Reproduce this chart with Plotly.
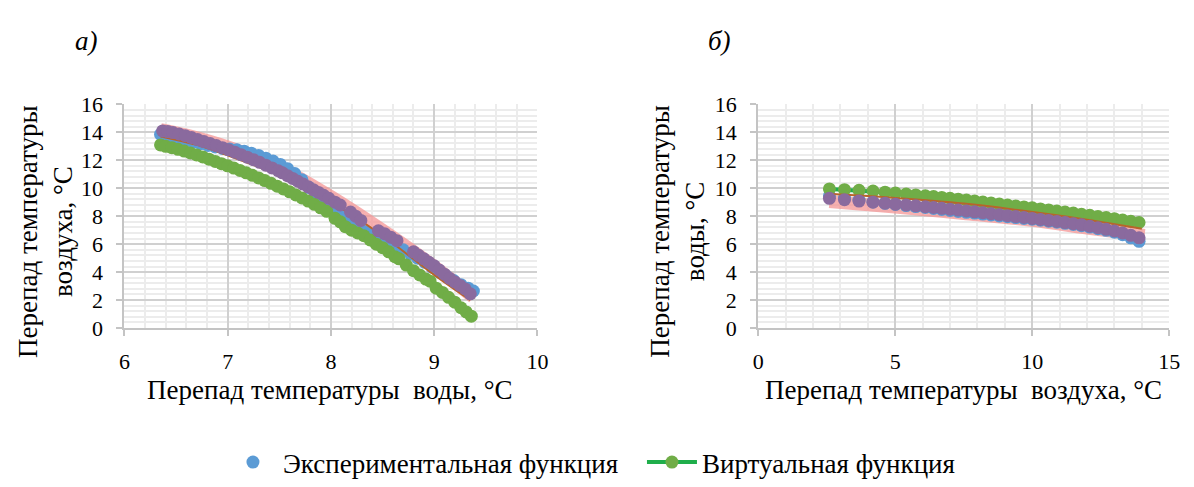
import plotly.graph_objects as go

# ---------------- data: panel а) ----------------
a_blue_x = [6.35, 6.41, 6.47, 6.53, 6.6, 6.67, 6.74, 6.81, 6.88, 6.95, 7.02, 7.09, 7.16, 7.23, 7.3, 7.37, 7.44,
            7.51, 7.58, 7.65, 7.72, 7.79, 7.86, 7.93, 8.0, 8.07, 8.14, 8.21, 8.28, 8.35, 8.42, 8.49, 8.56, 8.63,
            8.7, 8.77, 8.84, 8.91, 8.98, 9.05, 9.12, 9.19, 9.26, 9.33, 9.38]
a_blue_y = [13.85, 13.75, 13.65, 13.55, 13.42, 13.3, 13.18, 13.06, 12.95, 12.85, 12.8, 12.75, 12.65, 12.5, 12.35,
            12.15, 11.95, 11.7, 11.4, 11.05, 10.6, 10.05, 9.5, 9.0, 8.55, 8.15, 7.8, 7.45, 7.15, 6.85, 6.6, 6.35,
            6.1, 5.85, 5.6, 5.3, 5.0, 4.7, 4.35, 4.0, 3.7, 3.4, 3.1, 2.85, 2.65]

a_green_x = [6.35, 6.40, 6.46, 6.52, 6.58, 6.64, 6.70, 6.76, 6.82, 6.88, 6.94, 7.00, 7.06, 7.12, 7.18, 7.24, 7.30,
             7.36, 7.42, 7.48, 7.54, 7.60, 7.66, 7.72, 7.78, 7.84, 7.90, 7.96, 8.04, 8.09, 8.14, 8.20, 8.26, 8.32,
             8.38, 8.44, 8.50, 8.56, 8.62, 8.66, 8.73, 8.80, 8.86, 8.92, 8.96, 9.02, 9.08, 9.14, 9.20, 9.26, 9.31,
             9.36]
a_green_y = [13.1, 13.0, 12.9, 12.78, 12.66, 12.52, 12.38, 12.24, 12.08, 11.92, 11.76, 11.6, 11.44, 11.27, 11.1,
             10.92, 10.74, 10.55, 10.35, 10.15, 9.95, 9.74, 9.52, 9.3, 9.08, 8.85, 8.6, 8.35, 7.85, 7.6, 7.25, 7.0,
             6.8, 6.6, 6.3, 6.0, 5.75, 5.45, 5.1, 4.95, 4.5, 4.1, 3.8, 3.5, 3.35, 2.85, 2.55, 2.2, 1.85, 1.45, 1.15,
             0.85]

a_purple_x = [6.37, 6.42, 6.47, 6.53, 6.59, 6.65, 6.71, 6.77, 6.83, 6.89, 6.95, 7.01, 7.07, 7.13, 7.19, 7.25, 7.31,
              7.37, 7.43, 7.49, 7.53, 7.58, 7.63, 7.68, 7.73, 7.78, 7.83, 7.88, 7.93, 7.98, 8.04, 8.09, 8.19, 8.24,
              8.29, 8.46, 8.52, 8.58, 8.64, 8.8, 8.85, 8.9, 8.95, 9.0, 9.05, 9.1, 9.15, 9.2, 9.25, 9.3, 9.35]
a_purple_y = [14.1, 14.05, 13.98, 13.88, 13.76, 13.62, 13.48, 13.34, 13.2, 13.05, 12.9, 12.75, 12.58, 12.4, 12.22,
              12.04, 11.85, 11.65, 11.45, 11.25, 11.1, 10.9, 10.7, 10.5, 10.3, 10.1, 9.9, 9.7, 9.5, 9.28, 9.0, 8.8,
              8.3, 8.0, 7.7, 6.95, 6.75, 6.5, 6.25, 5.45, 5.2, 4.95, 4.7, 4.45, 4.15, 3.85, 3.55, 3.3, 3.05, 2.8,
              2.45]

a_pink_x = [6.35, 6.6, 7.0, 7.5, 8.0, 8.5, 9.0, 9.38]
a_pink_y = [14.2, 13.8, 12.95, 11.5, 9.4, 7.0, 4.4, 2.2]

a_brown_x = [6.35, 6.7, 7.0, 7.5, 8.0, 8.5, 9.0, 9.35]
a_brown_y = [13.7, 13.1, 12.35, 10.9, 9.0, 6.6, 3.8, 2.0]

# ---------------- data: panel б) ----------------
b_x = [2.6, 3.15, 3.68, 4.19, 4.63, 5.01, 5.4, 5.75, 6.1, 6.4, 6.7, 7.0, 7.3, 7.6, 7.9, 8.2, 8.5, 8.8, 9.1, 9.4,
       9.7, 10.0, 10.3, 10.6, 10.9, 11.2, 11.5, 11.8, 12.1, 12.4, 12.7, 13.0, 13.3, 13.6, 13.9]
b_green_y = [9.95, 9.9, 9.85, 9.8, 9.72, 9.65, 9.58, 9.52, 9.46, 9.4, 9.34, 9.28, 9.22, 9.15, 9.08, 9.01, 8.94,
             8.87, 8.8, 8.73, 8.66, 8.6, 8.52, 8.45, 8.37, 8.3, 8.22, 8.14, 8.06, 7.98, 7.9, 7.82, 7.73, 7.64, 7.55]
b_purple_y = [9.28, 9.18, 9.08, 9.0, 8.93, 8.86, 8.8, 8.74, 8.68, 8.62, 8.56, 8.5, 8.44, 8.38, 8.31, 8.25, 8.18,
              8.11, 8.04, 7.97, 7.91, 7.84, 7.77, 7.7, 7.62, 7.54, 7.46, 7.38, 7.28, 7.18, 7.06, 6.94, 6.8, 6.63,
              6.45]
b_blue_y = [9.45, 9.3, 9.15, 9.02, 8.92, 8.84, 8.76, 8.69, 8.62, 8.55, 8.48, 8.41, 8.34, 8.28, 8.22, 8.15, 8.09,
            8.02, 7.96, 7.9, 7.84, 7.78, 7.71, 7.64, 7.57, 7.49, 7.41, 7.32, 7.22, 7.11, 6.99, 6.85, 6.68, 6.45, 6.2]

b_pink_x = [2.6, 5.0, 7.5, 10.0, 12.0, 13.0, 14.1]
b_pink_y = [9.05, 8.65, 8.2, 7.7, 7.15, 6.9, 6.62]

b_brown_x = [2.6, 5.0, 7.5, 9.24, 12.0, 14.0]
b_brown_y = [9.6, 9.3, 8.9, 8.5, 7.75, 7.1]

legend_names = ["Экспериментальная функция", "Виртуальная функция"]
x_titles = ["Перепад температуры  воды, °С", "Перепад температуры  воздуха, °С"]
y_titles = ["Перепад температуры<br>воздуха, °С", "Перепад температуры<br>воды, °С"]
panel_labels = ["а)", "б)"]

BLUE = "#5b9bd5"
GREEN_M = "#70ad47"
GREEN_L = "#1fae4b"
PURPLE = "#8a6a9e"
PINK = "rgba(244,150,150,0.75)"
BROWN = "#b8652a"
MS = 13
FONT = "Liberation Serif"

fig = go.Figure()


def add_panel(xa, ya, pink, blue, green, brown, purple, show):
    fig.add_trace(go.Scatter(x=pink[0], y=pink[1], mode="lines", line=dict(color=PINK, width=13, shape="spline"),
                             xaxis=xa, yaxis=ya, showlegend=False, hoverinfo="skip"))
    fig.add_trace(go.Scatter(x=blue[0], y=blue[1], mode="markers", marker=dict(color=BLUE, size=MS),
                             name=legend_names[0], xaxis=xa, yaxis=ya, showlegend=show, legendrank=1))
    fig.add_trace(go.Scatter(x=green[0], y=green[1], mode="lines+markers",
                             marker=dict(color=GREEN_M, size=MS), line=dict(color=GREEN_L, width=4),
                             name=legend_names[1], xaxis=xa, yaxis=ya, showlegend=show, legendrank=2))
    fig.add_trace(go.Scatter(x=brown[0], y=brown[1], mode="lines", line=dict(color=BROWN, width=2, shape="spline"),
                             xaxis=xa, yaxis=ya, showlegend=False, hoverinfo="skip"))
    fig.add_trace(go.Scatter(x=purple[0], y=purple[1], mode="markers", marker=dict(color=PURPLE, size=MS),
                             xaxis=xa, yaxis=ya, showlegend=False))


add_panel("x", "y", (a_pink_x, a_pink_y), (a_blue_x, a_blue_y), (a_green_x, a_green_y),
          (a_brown_x, a_brown_y), (a_purple_x, a_purple_y), True)
add_panel("x2", "y2", (b_pink_x, b_pink_y), (b_x, b_blue_y), (b_x, b_green_y),
          (b_brown_x, b_brown_y), (b_x, b_purple_y), False)

# page body has an 8px default margin: figure is sized to fit the window inside it
OFF = 8
W, H = 1194 - OFF, 487 - OFF


def px(x):
    return (x - OFF) / W


def py(y):
    return 1 - (y - OFF) / H


axis_common = dict(showline=True, linecolor="#c4c4c4", linewidth=2, ticks="outside", ticklen=6,
                   tickcolor="#c4c4c4", tickwidth=2, gridcolor="#d0d0d0", gridwidth=2, zeroline=False,
                   tickfont=dict(family=FONT, size=22, color="#000"))
minor_y = dict(dtick=0.4, showgrid=True, gridcolor="#ececec", gridwidth=2, ticks="")

fig.update_layout(
    width=W, height=H, paper_bgcolor="white", plot_bgcolor="white",
    margin=dict(l=0, r=0, t=0, b=0),
    font=dict(family=FONT, color="#000"),
    xaxis=dict(domain=[px(120), px(539)], range=[6, 10], dtick=1, anchor="y", ticklabelstandoff=7,
               minor=dict(dtick=0.2, showgrid=True, gridcolor="#ececec", gridwidth=2, ticks=""), **axis_common),
    yaxis=dict(domain=[py(333), py(97)], range=[0, 16], dtick=2, anchor="x", ticklabelstandoff=9,
               minor=minor_y, **axis_common),
    xaxis2=dict(domain=[px(763), px(1180)], range=[0, 15], dtick=5, anchor="y2", ticklabelstandoff=7,
                minor=dict(dtick=1, showgrid=True, gridcolor="#ececec", gridwidth=2, ticks=""), **axis_common),
    yaxis2=dict(domain=[py(333), py(97)], range=[0, 16], dtick=2, anchor="x2", ticklabelstandoff=9,
                minor=minor_y, **axis_common),
    legend=dict(orientation="h", x=px(220), xanchor="left", y=py(475), yanchor="middle",
                font=dict(family=FONT, size=27, color="#000"), bgcolor="rgba(0,0,0,0)",
                itemwidth=50, entrywidth=354, entrywidthmode="pixels"),
    showlegend=True,
)

TF = dict(family=FONT, size=27, color="#000")
ann = [
    dict(text=x_titles[0], x=px(329), y=py(398), xref="paper", yref="paper", showarrow=False, font=TF,
         xanchor="center", yanchor="middle"),
    dict(text=x_titles[1], x=px(971), y=py(398), xref="paper", yref="paper", showarrow=False, font=TF,
         xanchor="center", yanchor="middle"),
    dict(text=y_titles[0], x=px(40), y=py(231), xref="paper", yref="paper", showarrow=False, textangle=-90,
         font=TF, xanchor="center", yanchor="middle"),
    dict(text=y_titles[1], x=px(681), y=py(231), xref="paper", yref="paper", showarrow=False, textangle=-90,
         font=TF, xanchor="center", yanchor="middle"),
    dict(text="<i>" + panel_labels[0] + "</i>", x=px(82), y=py(30), xref="paper", yref="paper", showarrow=False,
         font=dict(family=FONT, size=27, color="#000"), xanchor="center", yanchor="middle"),
    dict(text="<i>" + panel_labels[1] + "</i>", x=px(724), y=py(30), xref="paper", yref="paper", showarrow=False,
         font=dict(family=FONT, size=27, color="#000"), xanchor="center", yanchor="middle"),
]
fig.update_layout(annotations=ann)

fig.write_html("out.html")
